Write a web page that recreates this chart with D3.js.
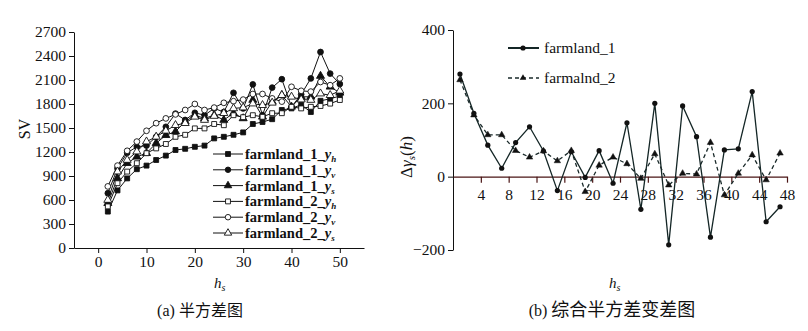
<!DOCTYPE html>
<html>
<head>
<meta charset="utf-8">
<script src="https://cdn.jsdelivr.net/npm/d3@7"></script>
<style>
  html, body { margin: 0; padding: 0; background: #fff; }
  svg { display: block; }
  svg text { font-family: "Liberation Serif", "Tinos", "Times New Roman", "DejaVu Serif", serif; fill: #111; }
  svg text .cjk, svg text.cjk { font-family: "Noto Sans CJK SC", sans-serif; }
</style>
</head>
<body>
<svg id="chart" width="808" height="331"></svg>
<script>
// ---------- (a) semivariograms ----------
const lagA = [2, 4, 6, 8, 10, 12, 14, 16, 18, 20, 22, 24, 26, 28, 30, 32, 34, 36, 38, 40, 42, 44, 46, 48, 50];
const f1_h = [455, 720, 870, 985, 1030, 1100, 1155, 1225, 1240, 1265, 1280, 1370, 1390, 1415, 1445, 1550, 1575, 1610, 1725, 1745, 1790, 1700, 1840, 1865, 1900];
const f1_v = [685, 995, 1190, 1265, 1280, 1390, 1515, 1680, 1600, 1690, 1660, 1745, 1700, 1940, 1745, 2045, 1660, 2005, 2110, 1765, 1920, 2120, 2450, 2180, 2050];
const f1_s = [560, 870, 1060, 1140, 1185, 1310, 1410, 1455, 1580, 1660, 1620, 1660, 1600, 1685, 1620, 1850, 1640, 1830, 1910, 1765, 1890, 1890, 2150, 2015, 1940];
const f2_h = [520, 810, 955, 1060, 1185, 1245, 1300, 1390, 1415, 1495, 1495, 1550, 1535, 1660, 1635, 1660, 1640, 1685, 1685, 1765, 1745, 1765, 1775, 1805, 1850];
const f2_v = [770, 1030, 1215, 1330, 1465, 1560, 1620, 1670, 1725, 1800, 1725, 1755, 1815, 1835, 1855, 1925, 1925, 1870, 1830, 2015, 1965, 1955, 2075, 2035, 2120];
const f2_s = [600, 955, 1100, 1205, 1330, 1390, 1465, 1535, 1560, 1640, 1600, 1650, 1685, 1745, 1755, 1805, 1785, 1815, 1910, 1890, 1855, 1850, 1930, 1910, 1965];
const ticksA_y = [0, 300, 600, 900, 1200, 1500, 1800, 2100, 2400, 2700];
const ticksA_x = [0, 10, 20, 30, 40, 50];
const seriesA = [
  { name: "farmland_1_", sub: "h", values: f1_h, shape: "square", fill: true },
  { name: "farmland_1_", sub: "v", values: f1_v, shape: "circle", fill: true },
  { name: "farmland_1_", sub: "s", values: f1_s, shape: "triangle", fill: true },
  { name: "farmland_2_", sub: "h", values: f2_h, shape: "square", fill: false },
  { name: "farmland_2_", sub: "v", values: f2_v, shape: "circle", fill: false },
  { name: "farmland_2_", sub: "s", values: f2_s, shape: "triangle", fill: false }
];

// ---------- (b) combined semivariogram differences ----------
const lagB = [1, 3, 5, 7, 9, 11, 13, 15, 17, 19, 21, 23, 25, 27, 29, 31, 33, 35, 37, 39, 41, 43, 45, 47];
const diff1 = [280, 173, 86, 23, 93, 136, 70, -38, 68, -2, 71, -18, 147, -89, 200, -186, 193, 109, -165, 73, 76, 232, -123, -82];
const diff2 = [264, 168, 114, 114, 71, 53, 70, 43, 71, -41, 31, 53, 35, -5, 62, -23, 9, 7, 93, -50, 9, 59, -9, 64];
const ticksB_y = [-200, 0, 200, 400];
const ticksB_x = [4, 8, 12, 16, 20, 24, 28, 32, 36, 40, 44, 48];

const svg = d3.select("#chart");
const ink = "#111";
const serif = '"Liberation Serif", "Tinos", "Times New Roman", "DejaVu Serif", serif';

function symbolPath(shape, size) {
  const t = shape === "square" ? d3.symbolSquare : shape === "circle" ? d3.symbolCircle : d3.symbolTriangle;
  return d3.symbol().type(t).size(size)();
}
function styleTicks(g) {
  g.attr("font-family", serif);
  g.selectAll("text").attr("font-size", 15.5).attr("font-family", serif).attr("fill", ink);
}

// ===== panel (a) =====
const xA = d3.scaleLinear().domain([-5, 55]).range([74, 364]);
const yA = d3.scaleLinear().domain([0, 2700]).range([248, 32]);
const gA = svg.append("g");

gA.append("g")
  .attr("transform", `translate(0,${yA(0)})`)
  .call(d3.axisBottom(xA).tickValues(ticksA_x).tickFormat(d3.format("d")).tickSize(5).tickPadding(3).tickSizeOuter(0))
  .call(styleTicks);
gA.append("g")
  .attr("transform", `translate(${xA(-5)},0)`)
  .call(d3.axisLeft(yA).tickValues(ticksA_y).tickFormat(d3.format("d")).tickSize(5).tickPadding(3).tickSizeOuter(0))
  .call(styleTicks);
gA.selectAll(".domain, .tick line").attr("stroke", ink);

const lineA = d3.line().x((d, i) => xA(lagA[i])).y(d => yA(d));
seriesA.forEach(s => {
  gA.append("path").attr("d", lineA(s.values))
    .attr("fill", "none").attr("stroke", ink).attr("stroke-width", 1);
});
seriesA.forEach(s => {
  const sz = s.shape === "triangle" ? 28 : s.shape === "circle" ? 26 : 24;
  gA.selectAll(null).data(s.values).enter().append("path")
    .attr("d", symbolPath(s.shape, sz))
    .attr("transform", (d, i) => `translate(${xA(lagA[i])},${yA(d)})`)
    .attr("fill", s.fill ? ink : "#fff")
    .attr("stroke", ink).attr("stroke-width", 0.9);
});

// legend (a)
const legA = gA.append("g");
seriesA.forEach((s, i) => {
  const y = 154 + i * 15.8;
  legA.append("line").attr("x1", 213).attr("x2", 243).attr("y1", y).attr("y2", y)
    .attr("stroke", ink).attr("stroke-width", 1);
  legA.append("path").attr("d", symbolPath(s.shape, 24))
    .attr("transform", `translate(228,${y})`)
    .attr("fill", s.fill ? ink : "#fff").attr("stroke", ink).attr("stroke-width", 0.9);
  const t = legA.append("text").attr("x", 245).attr("y", y + 5)
    .attr("font-size", 14.5).attr("font-weight", "bold");
  t.append("tspan").text(s.name);
  t.append("tspan").attr("font-style", "italic").text("y");
  t.append("tspan").attr("font-style", "italic").attr("font-size", 9)
    .attr("dy", 3).text(s.sub);
});

// axis titles (a)
svg.append("text").attr("transform", "translate(30,129) rotate(-90)")
  .attr("text-anchor", "middle").attr("font-size", 16).text("SV");
const hA = svg.append("text").attr("x", 214).attr("y", 288).attr("font-size", 15).attr("font-style", "italic");
hA.append("tspan").text("h");
hA.append("tspan").attr("font-size", 10).attr("dy", 3).text("s");
const capA = svg.append("text").attr("x", 200).attr("y", 316).attr("text-anchor", "middle").attr("font-size", 16);
capA.append("tspan").text("(a) ");
capA.append("tspan").attr("class", "cjk").attr("font-size", 16).text("半方差图");

// ===== panel (b) =====
const xB = d3.scaleLinear().domain([0, 48]).range([453, 787]);
const yB = d3.scaleLinear().domain([-200, 400]).range([250, 30]);
const gB = svg.append("g");

gB.append("g")
  .attr("transform", `translate(${xB(0)},0)`)
  .call(d3.axisLeft(yB).tickValues(ticksB_y).tickFormat(d3.format("d")).tickSize(5).tickPadding(3).tickSizeOuter(0))
  .call(styleTicks)
  .call(g => g.selectAll(".domain, .tick line").attr("stroke", ink));
gB.append("g")
  .attr("transform", `translate(0,${yB(0)})`)
  .call(d3.axisBottom(xB).tickValues(ticksB_x).tickFormat(d3.format("d")).tickSize(6).tickPadding(6).tickSizeOuter(0))
  .call(styleTicks)
  .call(g => g.selectAll(".domain, .tick line").attr("stroke", "#4a1414").attr("stroke-width", 1.2));

const lineB = vals => d3.line().x((d, i) => xB(lagB[i])).y(d => yB(d))(vals);
gB.append("path").attr("d", lineB(diff2)).attr("fill", "none")
  .attr("stroke", "#1a2a2a").attr("stroke-width", 1.3).attr("stroke-dasharray", "4,3");
gB.append("path").attr("d", lineB(diff1)).attr("fill", "none")
  .attr("stroke", "#142626").attr("stroke-width", 1.3);
gB.selectAll(null).data(diff2).enter().append("path")
  .attr("d", symbolPath("triangle", 18))
  .attr("transform", (d, i) => `translate(${xB(lagB[i])},${yB(d)})`)
  .attr("fill", ink).attr("stroke", ink).attr("stroke-width", 0.5);
gB.selectAll(null).data(diff1).enter().append("circle")
  .attr("cx", (d, i) => xB(lagB[i])).attr("cy", d => yB(d)).attr("r", 2.6)
  .attr("fill", ink);

// legend (b)
gB.append("line").attr("x1", 508).attr("x2", 539).attr("y1", 48).attr("y2", 48)
  .attr("stroke", "#142626").attr("stroke-width", 2);
gB.append("circle").attr("cx", 523).attr("cy", 48).attr("r", 2.6).attr("fill", ink);
gB.append("text").attr("x", 544).attr("y", 53).attr("font-size", 15.5).text("farmland_1");
gB.append("line").attr("x1", 508).attr("x2", 539).attr("y1", 78).attr("y2", 78)
  .attr("stroke", "#1a2a2a").attr("stroke-width", 1.3).attr("stroke-dasharray", "4,3");
gB.append("path").attr("d", symbolPath("triangle", 18)).attr("transform", "translate(523,78)").attr("fill", ink);
gB.append("text").attr("x", 544).attr("y", 83).attr("font-size", 15.5).text("farmalnd_2");

// axis titles (b)
const yl = svg.append("text").attr("transform", "translate(412,157) rotate(-90)")
  .attr("text-anchor", "middle").attr("font-size", 17);
yl.append("tspan").text("Δ");
yl.append("tspan").attr("font-style", "italic").text("γ");
yl.append("tspan").attr("font-style", "italic").attr("font-size", 11).attr("dy", 3).text("s");
yl.append("tspan").attr("dy", -3).text("(");
yl.append("tspan").attr("font-style", "italic").text("h");
yl.append("tspan").text(")");
const hB = svg.append("text").attr("x", 609).attr("y", 288).attr("font-size", 15).attr("font-style", "italic");
hB.append("tspan").text("h");
hB.append("tspan").attr("font-size", 10).attr("dy", 3).text("s");
const capB = svg.append("text").attr("x", 612).attr("y", 316).attr("text-anchor", "middle").attr("font-size", 16);
capB.append("tspan").text("(b) ");
capB.append("tspan").attr("class", "cjk").attr("font-size", 18).text("综合半方差变差图");
</script>
</body>
</html>
